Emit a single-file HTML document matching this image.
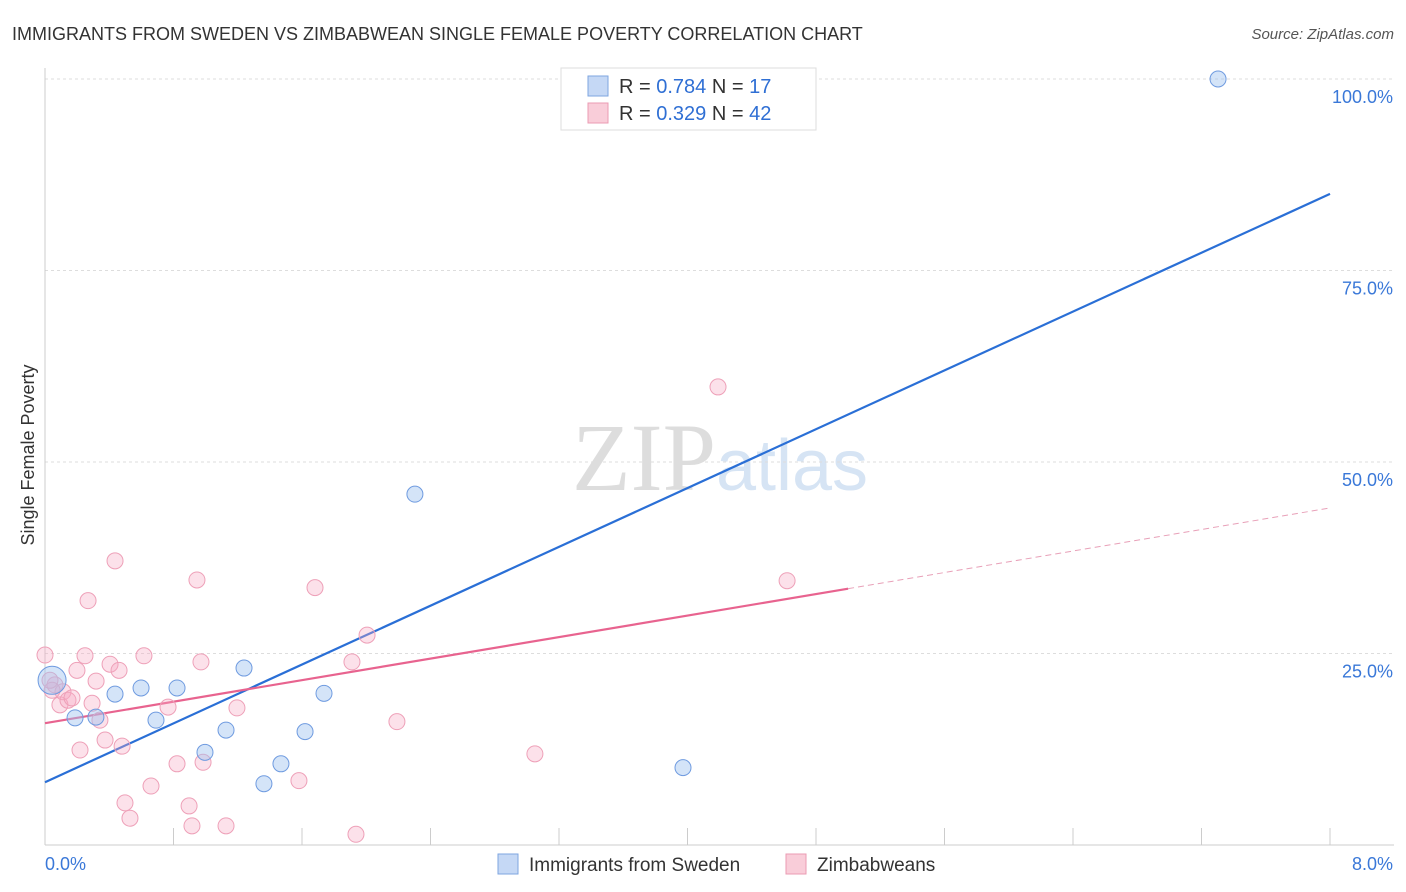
<!DOCTYPE html>
<html><head><meta charset="utf-8"><style>
body{margin:0;background:#fff;font-family:"Liberation Sans",sans-serif}
svg{display:block}
</style></head><body>
<svg id="c" width="1406" height="892" xmlns="http://www.w3.org/2000/svg">
<text x="12" y="40" font-size="18" fill="#333">IMMIGRANTS FROM SWEDEN VS ZIMBABWEAN SINGLE FEMALE POVERTY CORRELATION CHART</text>
<text x="1394" y="39" font-size="15" fill="#555" font-style="italic" text-anchor="end">Source: ZipAtlas.com</text>
<text x="720" y="490" font-size="96" fill="#ddd" text-anchor="middle" font-family="Liberation Serif,serif">ZIP<tspan fill="#d6e4f4" font-family="Liberation Sans,sans-serif" font-size="72">atlas</tspan></text>
<g id="grid"></g><g id="axes"></g><g id="trend"></g><g id="pts"></g>
<text transform="translate(34,455) rotate(-90)" font-size="18" fill="#333" text-anchor="middle">Single Female Poverty</text>
<g>
<rect x="561" y="68" width="255" height="62" fill="#fff" stroke="#ddd"/>
<rect x="588" y="76" width="20" height="20" fill="#c5d8f5" stroke="#7ea6e0"/>
<rect x="588" y="103" width="20" height="20" fill="#f9cdd9" stroke="#eb9bb3"/>
<text x="619" y="93" font-size="20" fill="#333">R = <tspan fill="#2f6fd4">0.784</tspan>   N = <tspan fill="#2f6fd4"> 17</tspan></text>
<text x="619" y="120" font-size="20" fill="#333">R = <tspan fill="#2f6fd4">0.329</tspan>   N = <tspan fill="#2f6fd4">42</tspan></text>
</g>
<g>
<rect x="498" y="854" width="20" height="20" fill="#c5d8f5" stroke="#7ea6e0"/>
<text x="529" y="871" font-size="19" fill="#333">Immigrants from Sweden</text>
<rect x="786" y="854" width="20" height="20" fill="#f9cdd9" stroke="#eb9bb3"/>
<text x="817" y="871" font-size="19" fill="#333">Zimbabweans</text>
</g>
</svg>
<script>
const blueX=[0.044,0.187,0.317,0.436,0.598,0.691,0.822,0.996,1.127,1.239,1.363,1.469,1.619,1.737,2.303,3.972,7.303];
const blueY=[21.5,16.6,16.7,19.7,20.5,16.3,20.5,12.1,15.0,23.1,8.0,10.6,14.8,19.8,45.8,10.1,100];
const pinkX=[0.0,0.062,0.093,0.112,0.143,0.168,0.199,0.218,0.249,0.268,0.293,0.318,0.342,0.374,0.405,0.436,0.461,0.480,0.498,0.529,0.616,0.660,0.766,0.822,0.897,0.915,0.946,0.971,0.984,1.127,1.195,1.581,1.681,1.911,1.936,2.005,2.191,3.050,4.190,4.620,0.044,0.031];
const pinkY=[24.8,20.9,18.3,20.0,18.9,19.2,22.8,12.4,24.7,31.9,18.5,21.4,16.3,13.7,23.6,37.1,22.8,12.9,5.5,3.5,24.7,7.7,18.0,10.6,5.1,2.5,34.6,23.9,10.8,2.5,17.9,8.4,33.6,23.9,1.4,27.4,16.1,11.9,59.8,34.5,20.2,21.5];
const yTicks=[25,50,75,100];
const yTickLabels=["25.0%","50.0%","75.0%","100.0%"];
const blueTrend=[8.2,85.0];
const pinkTrend=[15.9,44.0];
const pinkSolidEnd=5.0;
const NS="http://www.w3.org/2000/svg";
const sx=v=>45+v/8*1285, sy=v=>845-v/100*766;
function mk(p,t,a){const e=document.createElementNS(NS,t);for(const k in a)e.setAttribute(k,a[k]);document.getElementById(p).appendChild(e);return e;}
yTicks.forEach((t,i)=>{
 const g=mk('grid','line',{x1:45,x2:1394,y1:sy(t),y2:sy(t),stroke:'#ddd','stroke-dasharray':'3,3'});
 
 
 const l=mk('grid','text',{x:1393,y:sy(t)+24,'font-size':18,fill:'#3a78d8','text-anchor':'end'});
 l.textContent=yTickLabels[i];
 
 
});
const ax=mk('axes','line',{x1:45,x2:1394,y1:845,y2:845,stroke:'#ccc'});


const ay=mk('axes','line',{x1:45,x2:45,y1:68,y2:845,stroke:'#ccc'});


for(let i=0;i<=10;i++){const t=mk('axes','line',{x1:sx(i*0.8),x2:sx(i*0.8),y1:828,y2:845,stroke:'#ccc'});
 
 }
[["0.0%",45,'start'],["8.0%",1393,'end']].forEach(a=>{const l=mk('axes','text',{x:a[1],y:870,'font-size':18,fill:'#3a78d8','text-anchor':a[2]});l.textContent=a[0];
 
 });
const bt=mk('trend','line',{x1:sx(0),y1:sy(blueTrend[0]),x2:sx(8),y2:sy(blueTrend[1]),stroke:'#2a6fd6','stroke-width':2.2});


const pAt=x=>pinkTrend[0]+(pinkTrend[1]-pinkTrend[0])*x/8;
const pt=mk('trend','line',{x1:sx(0),y1:sy(pAt(0)),x2:sx(pinkSolidEnd),y2:sy(pAt(pinkSolidEnd)),stroke:'#e8638f','stroke-width':2.2});


const pd=mk('trend','line',{x1:sx(pinkSolidEnd),y1:sy(pAt(pinkSolidEnd)),x2:sx(8),y2:sy(pAt(8)),stroke:'#e8a0b8','stroke-width':1,'stroke-dasharray':'6,4'});


pinkX.forEach((x,i)=>{const c=mk('pts','circle',{cx:sx(x),cy:sy(pinkY[i]),r:8,fill:'rgba(245,170,195,0.35)',stroke:'#eea0b8','stroke-width':1});
 
 });
blueX.forEach((x,i)=>{const c=mk('pts','circle',{cx:sx(x),cy:sy(blueY[i]),r:i===0?14:8,fill:'rgba(160,195,240,0.45)',stroke:'#6f9be0','stroke-width':1});
 
 });
</script>
</body></html>
